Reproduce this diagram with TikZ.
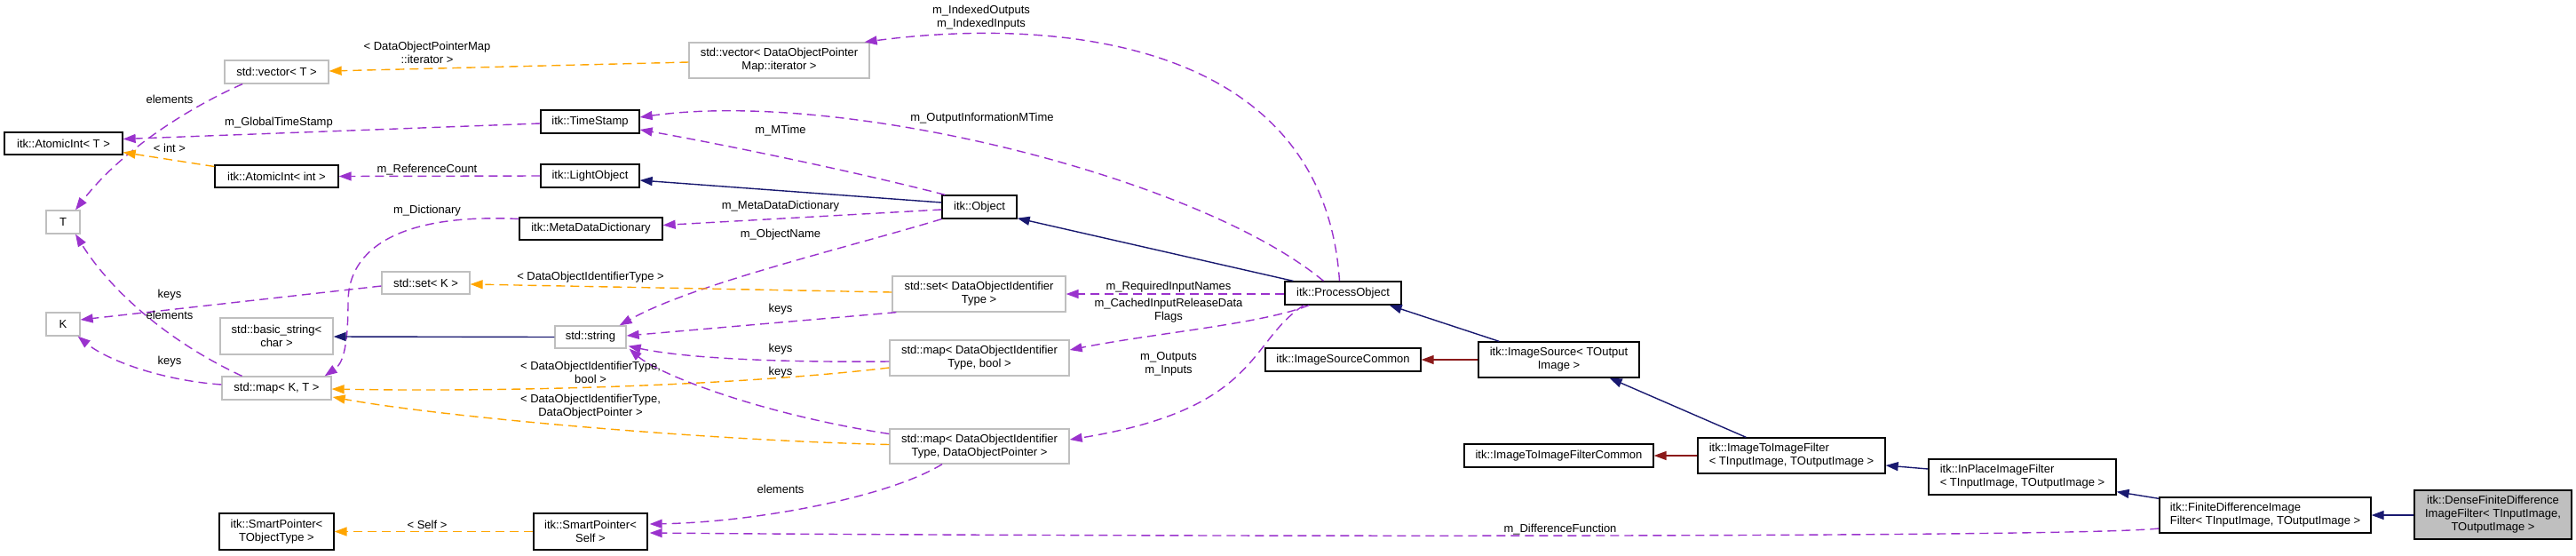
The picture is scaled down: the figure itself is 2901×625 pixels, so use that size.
\documentclass[tikz,border=0pt]{standalone}
\usepackage{fontspec}
\setmainfont{Liberation Sans}
\usetikzlibrary{arrows.meta,calc}
\definecolor{navyc}{HTML}{191970}
\definecolor{redc}{HTML}{8B1A1A}
\definecolor{purpc}{HTML}{9A32CD}
\definecolor{orngc}{HTML}{FFA500}
\definecolor{greyb}{HTML}{BFBFBF}
\newcommand{\lblfont}{\fontsize{13}{15}\selectfont}
\tikzset{
  docbox/.style={draw=black, line width=1.3pt, fill=white, inner sep=0pt, font=\lblfont, align=center},
  extbox/.style={draw=greyb, line width=1.3pt, fill=white, inner sep=0pt, font=\lblfont, align=center},
  mebox/.style={docbox, fill=greyb},
  tip/.style={-{Triangle[length=14pt,width=10pt]}},
  inh/.style={tip, draw=navyc, line width=1.4pt},
  priv/.style={tip, draw=redc, line width=1.4pt},
  usage/.style={tip, draw=purpc, line width=1.4pt, dash pattern=on 10pt off 6pt},
  tmpl/.style={tip, draw=orngc, line width=1.4pt, dash pattern=on 10pt off 6pt},
  lab/.style={font=\lblfont, align=center, inner sep=0pt}
}
\begin{document}
\begin{tikzpicture}[x=1pt,y=-1pt]
\useasboundingbox (0,0) rectangle (2901,625);
% nodes
\node[extbox, minimum width=117, minimum height=26] (vecT) at (311.5,81) {std::vector< T >};
\node[docbox, minimum width=133, minimum height=25] (aiT) at (71.5,161.5) {itk::AtomicInt< T >};
\node[extbox, minimum width=38, minimum height=26] (T) at (71,250) {T};
\node[docbox, minimum width=139, minimum height=25] (aiInt) at (311.5,198.5) {itk::AtomicInt< int >};
\node[docbox, minimum width=111, minimum height=26] (ts) at (664.5,137) {itk::TimeStamp};
\node[docbox, minimum width=111, minimum height=26] (lo) at (664.5,198) {itk::LightObject};
\node[docbox, minimum width=161, minimum height=25] (mdd) at (665.5,257.5) {itk::MetaDataDictionary};
\node[extbox, minimum width=99, minimum height=25] (setK) at (479.5,318.5) {std::set< K >};
\node[extbox, minimum width=38, minimum height=26] (K) at (71,365) {K};
\node[extbox, minimum width=127, minimum height=41] (bstr) at (311.5,378.5) {std::basic\_string<\\char >};
\node[extbox, minimum width=80, minimum height=25] (str) at (665,379.5) {std::string};
\node[extbox, minimum width=123, minimum height=26] (mapKT) at (311.5,437) {std::map< K, T >};
\node[docbox, minimum width=129, minimum height=41] (spT) at (311.5,598.5) {itk::SmartPointer<\\TObjectType >};
\node[docbox, minimum width=128, minimum height=41] (spS) at (665,598.5) {itk::SmartPointer<\\Self >};
\node[extbox, minimum width=203, minimum height=40] (vecIt) at (877.5,68) {std::vector< DataObjectPointer\\Map::iterator >};
\node[docbox, minimum width=84, minimum height=26] (obj) at (1103,233) {itk::Object};
\node[extbox, minimum width=195, minimum height=40] (setD) at (1102.5,331) {std::set< DataObjectIdentifier\\Type >};
\node[extbox, minimum width=202, minimum height=40] (mapB) at (1103,403) {std::map< DataObjectIdentifier\\Type, bool >};
\node[extbox, minimum width=202, minimum height=39] (mapP) at (1103,502.5) {std::map< DataObjectIdentifier\\Type, DataObjectPointer >};
\node[docbox, minimum width=131, minimum height=26] (po) at (1512.5,330) {itk::ProcessObject};
\node[docbox, minimum width=175, minimum height=26] (isc) at (1512.5,405) {itk::ImageSourceCommon};
\node[docbox, minimum width=181, minimum height=40] (is) at (1755.5,405) {itk::ImageSource< TOutput\\Image >};
\node[docbox, minimum width=213, minimum height=26] (itifc) at (1755.5,513) {itk::ImageToImageFilterCommon};
\node[docbox, minimum width=211, minimum height=40, align=left] (itif) at (2017.5,513) {itk::ImageToImageFilter\\< TInputImage, TOutputImage >};
\node[docbox, minimum width=211, minimum height=40, align=left] (ipf) at (2277.5,537) {itk::InPlaceImageFilter\\< TInputImage, TOutputImage >};
\node[docbox, minimum width=238, minimum height=40, align=left] (fdif) at (2551,580) {itk::FiniteDifferenceImage\\Filter< TInputImage, TOutputImage >};
\node[mebox, minimum width=177, minimum height=55] (dense) at (2807.5,579.5) {itk::DenseFiniteDifference\\ImageFilter< TInputImage,\\TOutputImage >};
% edges
\draw[usage] ($(vecT.south)+(-38.5,0)$) .. controls (220,118) and (140,165) .. ($(T.north)+(14,0)$);
\draw[tmpl] ($(vecIt.west)+(0,2)$) -- ($(vecT.east)+(0,-1)$);
\draw[usage] ($(ts.west)+(0,2)$) -- ($(aiT.east)+(0,-5)$);
\draw[tmpl] ($(aiInt.west)+(0,-11)$) -- ($(aiT.east)+(0,10)$);
\draw[usage] (lo.west) -- (aiInt.east);
\draw[inh] ($(obj.west)+(0,-5)$) -- ($(lo.east)+(0,5)$);
\draw[usage] ($(obj.north west)+(4,0)$) .. controls (950,190) and (800,160) .. ($(ts.east)+(0,9)$);
\draw[usage] ($(po.north)+(-22,0)$) .. controls (1350,200) and (950,100) .. ($(ts.east)+(0,-5)$);
\draw[usage] ($(po.north)+(-4,0)$) .. controls (1490,40) and (1180,20) .. ($(vecIt.north east)+(-6,0)$);
\draw[usage] ($(obj.west)+(0,3)$) -- ($(mdd.east)+(0,-4)$);
\draw[usage] (obj.south west) .. controls (950,280) and (780,320) .. ($(str.north east)+(-8,0)$);
\draw[usage] ($(mdd.west)+(0,-11)$) .. controls (450,240) and (392,280) .. (392,340) .. controls (392,395) and (385,410) .. ($(mapKT.north east)+(-8,0)$);
\draw[inh] ($(po.north west)+(10,0)$) -- ($(obj.south east)+(0,-1)$);
\draw[usage] ($(po.west)+(0,1)$) -- (setD.east);
\draw[usage] ($(po.south west)+(28,0)$) .. controls (1420,365) and (1300,375) .. ($(mapB.east)+(0,-9)$);
\draw[usage] ($(po.south west)+(22,0)$) .. controls (1405,385) and (1420,460) .. ($(mapP.east)+(0,-7.5)$);
\draw[tmpl] ($(setD.west)+(0,-2)$) -- ($(setK.east)+(0,1.5)$);
\draw[usage] ($(setD.south west)+(5,0)$) -- ($(str.east)+(0,-1.5)$);
\draw[usage] ($(mapB.west)+(0,4)$) .. controls (900,408) and (780,405) .. ($(str.south east)+(2,-3)$);
\draw[tmpl] ($(mapB.west)+(0,11)$) .. controls (850,432) and (600,442) .. ($(mapKT.east)+(0,1)$);
\draw[usage] ($(mapP.west)+(0,-14)$) .. controls (850,465) and (740,420) .. ($(str.south east)+(3,0)$);
\draw[tmpl] ($(mapP.west)+(0,-2)$) .. controls (800,496) and (500,470) .. ($(mapKT.east)+(1,10)$);
\draw[usage] ($(mapP.south)+(-42,0)$) .. controls (1000,560) and (850,588) .. ($(spS.east)+(2,-8.5)$);
\draw[usage] ($(fdif.west)+(0,15)$) .. controls (2330,606) and (1200,604) .. ($(spS.east)+(2,1.5)$);
\draw[tmpl] (spS.west) -- (spT.east);
\draw[inh] (str.west) -- ($(bstr.east)+(0,0.5)$);
\draw[usage] ($(setK.west)+(0,3.5)$) -- ($(K.east)+(0,-5)$);
\draw[usage] ($(mapKT.west)+(0,-4)$) .. controls (180,428) and (120,405) .. ($(K.south east)+(-3,0)$);
\draw[usage] ($(mapKT.north)+(-39,0)$) .. controls (180,380) and (120,320) .. ($(T.south)+(14,0)$);
\draw[inh] ($(is.north west)+(24,0)$) -- ($(po.south east)+(-14,0)$);
\draw[priv] (is.west) -- (isc.east);
\draw[inh] ($(itif.north west)+(55,0)$) -- ($(is.south east)+(-34,0)$);
\draw[priv] (itif.west) -- (itifc.east);
\draw[inh] ($(ipf.west)+(0,-9)$) -- ($(itif.east)+(0,11)$);
\draw[inh] ($(fdif.north west)+(0,2)$) -- ($(ipf.south east)+(0,-4)$);
\draw[inh] ($(dense.west)+(0,0.5)$) -- (fdif.east);
% labels
\node[lab] (l1) at (481,59.5) {< DataObjectPointerMap\\::iterator >};
\node[lab] (l2) at (191,112) {elements};
\node[lab] (l3) at (314,138) {m\_GlobalTimeStamp};
\node[lab] (l4) at (191,167) {< int >};
\node[lab] (l5) at (481,191) {m\_ReferenceCount};
\node[lab] (l6) at (481,237) {m\_Dictionary};
\node[lab] (l7) at (1105,19.5) {m\_IndexedOutputs\\m\_IndexedInputs};
\node[lab] (l8) at (1106,133) {m\_OutputInformationMTime};
\node[lab] (l9) at (879,147) {m\_MTime};
\node[lab] (l10) at (879,232) {m\_MetaDataDictionary};
\node[lab] (l11) at (879,264) {m\_ObjectName};
\node[lab] (l12) at (191,332) {keys};
\node[lab] (l13) at (191,355) {elements};
\node[lab] (l14) at (191,407) {keys};
\node[lab] (l15) at (665,312) {< DataObjectIdentifierType >};
\node[lab] (l16) at (665,419) {< DataObjectIdentifierType,\\bool >};
\node[lab] (l17) at (665,457.5) {< DataObjectIdentifierType,\\DataObjectPointer >};
\node[lab] (l18) at (481,591) {< Self >};
\node[lab] (l19) at (879,348) {keys};
\node[lab] (l20) at (879,393) {keys};
\node[lab] (l21) at (879,419) {keys};
\node[lab] (l22) at (879,551) {elements};
\node[lab] (l23) at (1316,323) {m\_RequiredInputNames};
\node[lab] (l24) at (1316,350) {m\_CachedInputReleaseData\\Flags};
\node[lab] (l25) at (1316,410) {m\_Outputs\\m\_Inputs};
\node[lab] (l26) at (1757,596) {m\_DifferenceFunction};
\end{tikzpicture}
\end{document}
